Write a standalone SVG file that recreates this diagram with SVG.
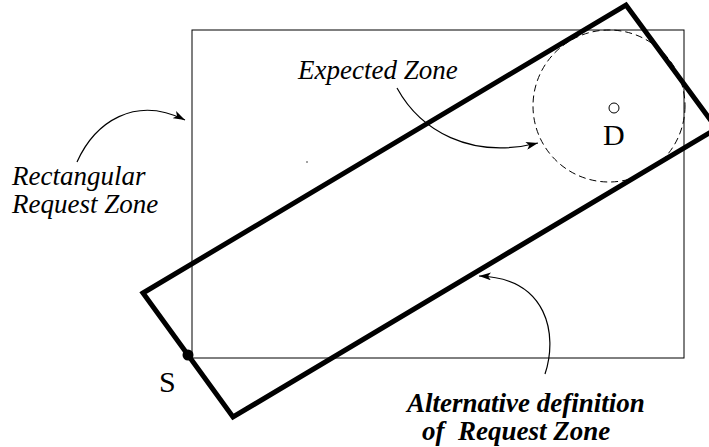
<svg xmlns="http://www.w3.org/2000/svg" width="709" height="447" viewBox="0 0 709 447">
<style>
.lbl{font-family:"Liberation Serif","Times New Roman",serif;font-style:italic;font-size:27px;fill:#000}
.bold{font-weight:bold}
.up{font-family:"Liberation Serif","Times New Roman",serif;font-size:30px;fill:#000}
.conn{fill:none;stroke:#000;stroke-width:1.2}
</style>
<defs>
<marker id="ah" viewBox="0 0 12 8" refX="12" refY="4" markerWidth="12" markerHeight="8" markerUnits="userSpaceOnUse" orient="auto">
<path d="M0,0 L12,4 L0,8 L3,4 Z" fill="#000"/>
</marker>
</defs>
<rect width="709" height="447" fill="#fff"/>
<g id="request-rect">
<rect x="192" y="30" width="492" height="328" fill="none" stroke="#000" stroke-width="1"/>
</g>
<g id="expected-zone">
<circle cx="609" cy="106" r="76" fill="none" stroke="#000" stroke-width="1" stroke-dasharray="7,4"/>
</g>
<g id="alt-zone">
<polygon points="143,293 626,5 716.7,128.5 233,417" fill="none" stroke="#000" stroke-width="5" stroke-linejoin="miter"/>
</g>
<g id="dest">
<circle cx="614" cy="108" r="5" fill="none" stroke="#000" stroke-width="1"/>
<text class="up" x="603" y="145">D</text>
</g>
<g id="source">
<circle cx="188" cy="355" r="5.5" fill="#000"/>
<text class="up" x="159" y="392">S</text>
</g>
<circle cx="307" cy="162" r="0.7" fill="#000"/>
<g id="label-rect">
<text class="lbl" x="12" y="185">Rectangular</text>
<text class="lbl" x="12" y="213">Request Zone</text>
</g>
<g id="label-expected">
<text class="lbl" x="298" y="79">Expected Zone</text>
</g>
<g id="label-alt">
<text class="lbl bold" x="407" y="412">Alternative definition</text>
<text class="lbl bold" x="422" y="440" xml:space="preserve">of  Request Zone</text>
</g>
<g id="connectors">
<path class="conn" d="M77,162 C95,122 135,95 185,120" marker-end="url(#ah)"/>
<path class="conn" d="M397,88 C420,130 470,160 538,143" marker-end="url(#ah)"/>
<path class="conn" d="M545,374 C558,335 548,278 479,276" marker-end="url(#ah)"/>
</g>
</svg>
